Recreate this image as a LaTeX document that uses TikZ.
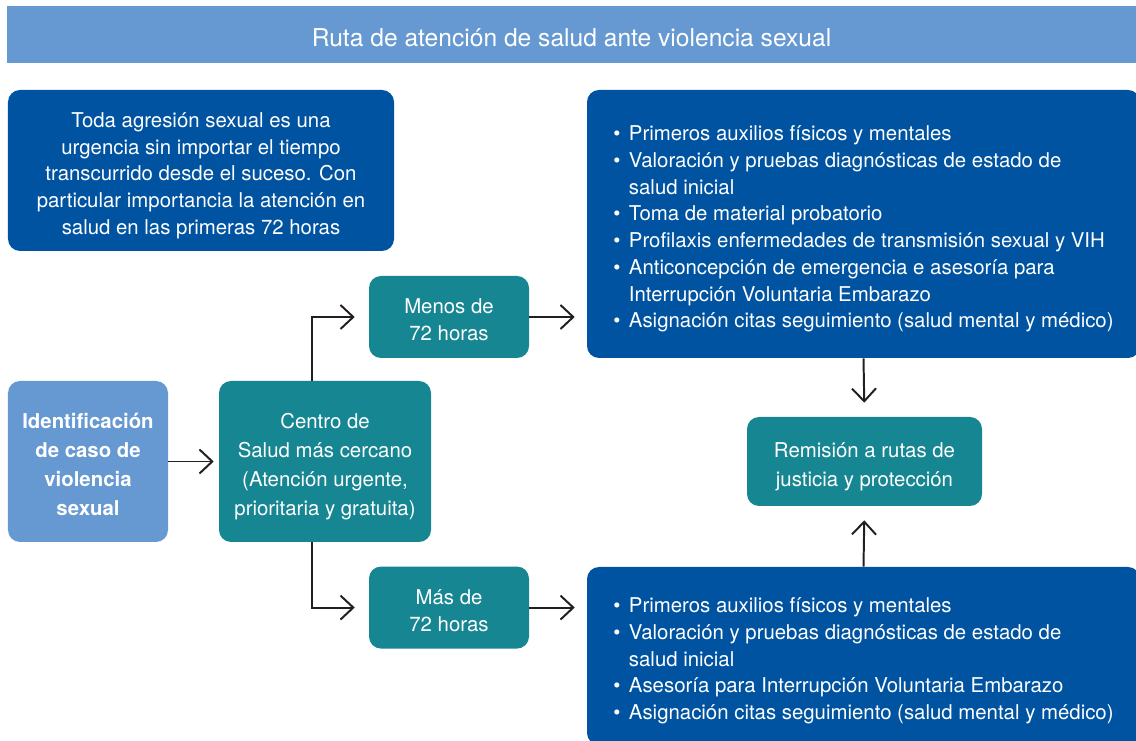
\documentclass[tikz,border=0pt]{standalone}
\usepackage{fontspec}
\setmainfont{TeX Gyre Heros}
\usetikzlibrary{arrows.meta}
\usetikzlibrary{positioning}
\definecolor{titleblue}{RGB}{102,153,209}
\definecolor{deepblue}{RGB}{0,83,160}
\definecolor{routeteal}{RGB}{22,134,146}
\definecolor{arrowgray}{RGB}{35,31,32}
% centred lines, set a little lower inside their box
\newcommand{\boxlines}[1]{\raisebox{0pt}[\dimexpr\height+7pt\relax]{\begin{tabular}{@{}c@{}}#1\end{tabular}}}
% bullet list, set lower the same way
\newcommand{\bulletlist}[1]{\raisebox{0pt}[\dimexpr\height+7pt\relax]{\begin{tabular}{@{}l@{\hspace{6pt}}l@{}}#1\end{tabular}}}

\begin{document}
\begin{tikzpicture}[
  box/.style={rounded corners=0.3cm, text=white, inner sep=0pt,
    font=\fontsize{14.5}{19}\selectfont},
  tallbox/.style={box, font=\fontsize{14.5}{20.6}\selectfont},
  tealbox/.style={fill=routeteal},
  bluebox/.style={fill=deepblue},
  flow/.style={draw=arrowgray, line width=1.4pt, -{Straight Barb[length=3.2mm,width=6mm]}}
]
\useasboundingbox (0,0) rectangle (28.4,18.5);

% title bar
\node[fill=titleblue, text=white, minimum width=28.225cm, minimum height=1.425cm,
  font=\fontsize{17.5}{21}\selectfont] (title) at (14.2875,17.6375)
  {\raisebox{0pt}[\dimexpr\height+5pt\relax]{Ruta de atención de salud ante violencia sexual}};

\node[box, bluebox, minimum width=9.65cm, minimum height=4.025cm] (urgency) at (5.025,14.2375)
  {\boxlines{Toda agresión sexual es una\\urgencia sin importar el tiempo\\transcurrido desde el suceso. Con\\particular importancia la atención en\\salud en las primeras 72 horas}};

% left column
\node[tallbox, fill=titleblue, minimum width=4cm, minimum height=4.025cm,
  font=\fontsize{14.5}{20.6}\selectfont\bfseries] (ident) at (2.2,6.9625)
  {\boxlines{Identificación\\de caso de\\violencia\\sexual}};
\node[tallbox, tealbox, minimum width=5.3cm, minimum height=4.025cm] (centro) at (8.125,6.9625)
  {\boxlines{Centro de\\Salud más cercano\\(Atención urgente,\\prioritaria y gratuita)}};

\node[box, tealbox, minimum width=4cm, minimum height=2.05cm] (under72) at (11.225,10.575)
  {\boxlines{Menos de\\72 horas}};
\node[box, tealbox, minimum width=4cm, minimum height=2.05cm, below=5.2cm of under72] (over72)
  {\boxlines{Más de\\72 horas}};

% right column
\node[box, bluebox, minimum width=13.825cm, minimum height=6.7cm] (fullcare) at (21.5875,12.9)
  {\bulletlist{
   \textbullet & Primeros auxilios físicos y mentales\\
   \textbullet & Valoración y pruebas diagnósticas de estado de\\
               & salud inicial\\
   \textbullet & Toma de material probatorio\\
   \textbullet & Profilaxis enfermedades de transmisión sexual y VIH\\
   \textbullet & Anticoncepción de emergencia e asesoría para\\
               & Interrupción Voluntaria Embarazo\\
   \textbullet & Asignación citas seguimiento (salud mental y médico)}};
\node[box, bluebox, minimum width=13.825cm, minimum height=4.45cm] (partcare) at (21.5875,2.1)
  {\bulletlist{
   \textbullet & Primeros auxilios físicos y mentales\\
   \textbullet & Valoración y pruebas diagnósticas de estado de\\
               & salud inicial\\
   \textbullet & Asesoría para Interrupción Voluntaria Embarazo\\
   \textbullet & Asignación citas seguimiento (salud mental y médico)}};

\node[box, tealbox, minimum width=5.875cm, minimum height=2.225cm,
  font=\fontsize{14.5}{20}\selectfont] (referral) at (21.6125,6.9625)
  {\boxlines{Remisión a rutas de\\justicia y protección}};

% arrows
\draw[flow, shorten >=0.125cm] (ident) -- (centro);
\draw[flow, shorten >=0.35cm] ([xshift=-0.325cm]centro.north) |- (under72.west);
\draw[flow, shorten >=0.35cm] ([xshift=-0.325cm]centro.south) |- (over72.west);
\draw[flow, shorten >=0.3cm] (under72.east) -- (under72.east -| fullcare.west);
\draw[flow, shorten >=0.3cm] (over72.east) -- (over72.east -| partcare.west);
\draw[flow, shorten >=0.35cm] (fullcare.south) -- (referral.north);
\draw[flow, shorten >=0.35cm] (partcare.north) -- (referral.south);

\end{tikzpicture}
\end{document}
